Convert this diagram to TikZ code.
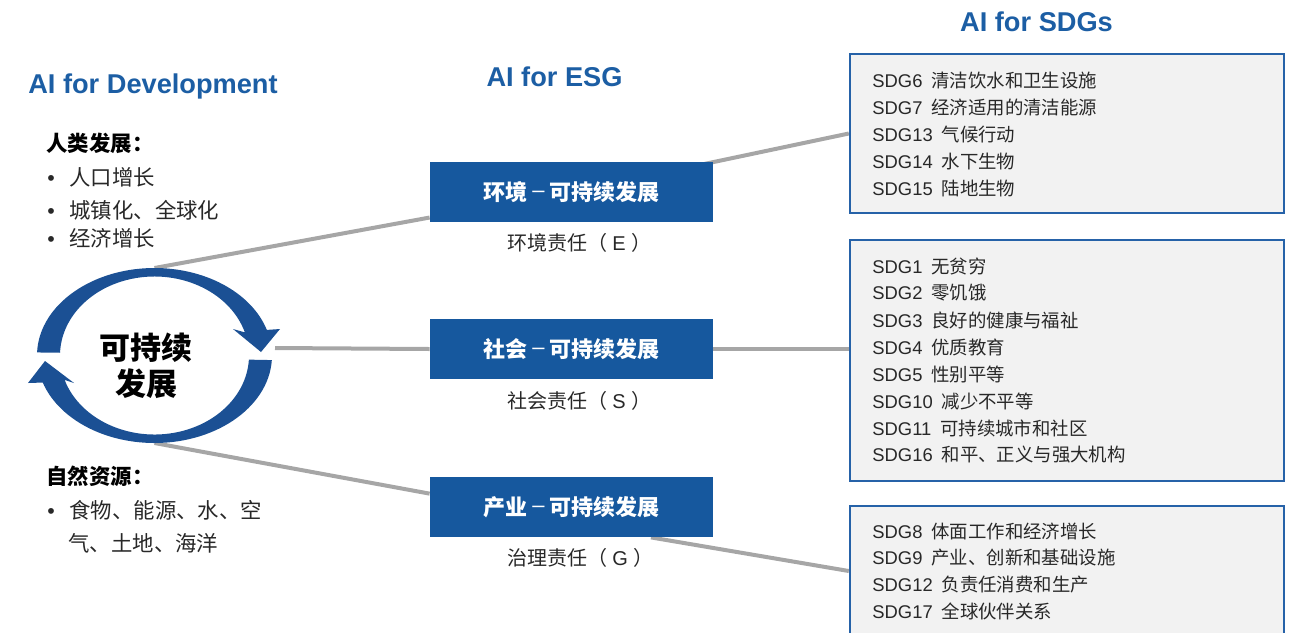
\documentclass[tikz,border=0pt]{standalone}
\usepackage{fontspec}
\setmainfont{Liberation Sans}
\newfontfamily\cjk{Noto Sans CJK SC}
\usepackage{tikz}
\usetikzlibrary{positioning,calc,backgrounds}
\definecolor{esgblue}{RGB}{22,88,158}
\definecolor{titleblue}{RGB}{28,94,164}
\definecolor{ringblue}{RGB}{27,80,148}
\definecolor{linkgray}{RGB}{166,166,166}
\definecolor{sdgfill}{RGB}{242,242,242}
\definecolor{sdgedge}{RGB}{38,98,168}
\definecolor{ink}{RGB}{40,40,40}
\newcommand{\sdgline}[2]{SDG#1\hspace{4.5pt}{\cjk #2}}
\newcommand{\resp}[2]{{\cjk #1（}\hspace{2.5pt}#2\hspace{3pt}{\cjk ）}}
\newcommand{\esgname}[1]{{\cjk #1}\hspace{2.5pt}\raisebox{1.6pt}{\normalfont\fontsize{11}{13}\selectfont\textendash}\hspace{2.5pt}{\cjk 可持续发展}}

\begin{document}
\begin{tikzpicture}[x=0.5pt,y=-0.5pt,
  title/.style={font=\fontsize{13.6}{16}\selectfont\bfseries,text=titleblue,inner sep=0,anchor=base},
  esgbox/.style={fill=esgblue,text=white,minimum width=141.5pt,minimum height=30pt,inner sep=0,font=\cjk\fontsize{11}{13}\selectfont\bfseries},
  resplabel/.style={anchor=west,inner sep=0,text=ink,font=\fontsize{10}{12}\selectfont},
  sdgbox/.style={draw=sdgedge,line width=1.2pt,fill=sdgfill,minimum width=217pt,inner sep=0},
  sdgtext/.style={anchor=west,inner sep=0,text=ink,font=\fontsize{9.2}{11}\selectfont},
  listhead/.style={anchor=west,inner sep=0,font=\cjk\fontsize{10.7}{13}\selectfont\bfseries},
  listitem/.style={anchor=west,inner sep=0,text=ink,font=\fontsize{10.7}{13}\selectfont},
  link/.style={draw=linkgray,line width=2pt}]
\useasboundingbox (0,0) rectangle (1299,632);
\clip (0,0) rectangle (1299,632);

% titles
\node[title] (devtitle) at (153,93) {AI for Development};
\node[title] (esgtitle) at (554.5,86.5) {AI for ESG};
\node[title] (sdgtitle) at (1036.5,31.5) {AI for SDGs};

% left column
\node[listhead] (human) at (46,143) {人类发展：};
\foreach \t/\y in {人口增长/177,城镇化、全球化/210,经济增长/238}
   \node[listitem] at (47,\y) {•\hspace{7.3pt}{\cjk \t}};
\node[listhead] (nature) at (46,476) {自然资源：};
\node[listitem] (res1) at (47,510) {•\hspace{7.3pt}{\cjk 食物、能源、水、空}};
\node[listitem,font=\cjk\fontsize{10.7}{13}\selectfont] (res2) at (68,543) {气、土地、海洋};

% ring of two arrows
\coordinate (ringc) at (154.5,355.5);
\fill[ringblue] ($(ringc)+(182:117.5 and 87.5)$)
   arc[start angle=182,end angle=343,x radius=117.5,y radius=87.5]
   -- (280,329) -- (261,352) -- (233,329)
   -- ($(ringc)+(343:94.5 and 79)$)
   arc[start angle=343,end angle=182,x radius=94.5,y radius=79] -- cycle;
\fill[ringblue] ($(ringc)+(3:117.5 and 87.5)$)
   arc[start angle=3,end angle=162,x radius=117.5,y radius=87.5]
   -- (28,383) -- (45,361) -- (74,383)
   -- ($(ringc)+(162:94.5 and 79)$)
   arc[start angle=162,end angle=3,x radius=94.5,y radius=79] -- cycle;
\node[align=center,font=\cjk\fontsize{15.5}{18}\selectfont\bfseries] (core) at (146,366) {可持续\\发展};
\coordinate (ringtop) at (154.5,268);
\coordinate (ringright) at (275,348);
\coordinate (ringbot) at (154.5,443);

% ESG boxes
\node[esgbox] (env) at (571.5,192) {\esgname{环境}};
\node[esgbox] (soc) at (571.5,349) {\esgname{社会}};
\node[esgbox] (gov) at (571.5,507) {\esgname{产业}};
\node[resplabel] (envlab) at (507,243) {\resp{环境责任}{E}};
\node[resplabel] (soclab) at (507,401) {\resp{社会责任}{S}};
\node[resplabel] (govlab) at (507,558) {\resp{治理责任}{G}};

% SDG boxes
\node[sdgbox,minimum height=79.5pt] (sdgE) at (1067,133.5) {};
\node[sdgbox,minimum height=120.5pt] (sdgS) at (1067,360.5) {};
\node[sdgbox,minimum height=65pt] (sdgG) at (1067,571) {};
\foreach \n/\t [count=\c from 0] in {6/清洁饮水和卫生设施,7/经济适用的清洁能源,13/气候行动,14/水下生物,15/陆地生物}
   \node[sdgtext] at (872,81+26.8*\c) {\sdgline{\n}{\t}};
\foreach \n/\t [count=\c from 0] in {1/无贫穷,2/零饥饿,3/良好的健康与福祉,4/优质教育,5/性别平等,10/减少不平等,11/可持续城市和社区,16/和平、正义与强大机构}
   \node[sdgtext] at (872,266+27*\c) {\sdgline{\n}{\t}};
\foreach \n/\t [count=\c from 0] in {8/体面工作和经济增长,9/产业、创新和基础设施,12/负责任消费和生产,17/全球伙伴关系}
   \node[sdgtext] at (872,531+26.7*\c) {\sdgline{\n}{\t}};

% connectors behind the boxes
\begin{scope}[on background layer]
\draw[link] (ringtop) -- ($(env.north west)!0.92!(env.south west)$);
\draw[link] (ringright) -- (soc.west);
\draw[link] (ringbot) -- ($(gov.north west)!0.28!(gov.south west)$);
\draw[link] (env.center) -- (sdgE.west);
\draw[link] (soc.east) -- (soc.east -| sdgS.west);
\draw[link] ($(gov.south west)!0.78!(gov.south east)$) -- (sdgG.west);
\end{scope}
\end{tikzpicture}
\end{document}
